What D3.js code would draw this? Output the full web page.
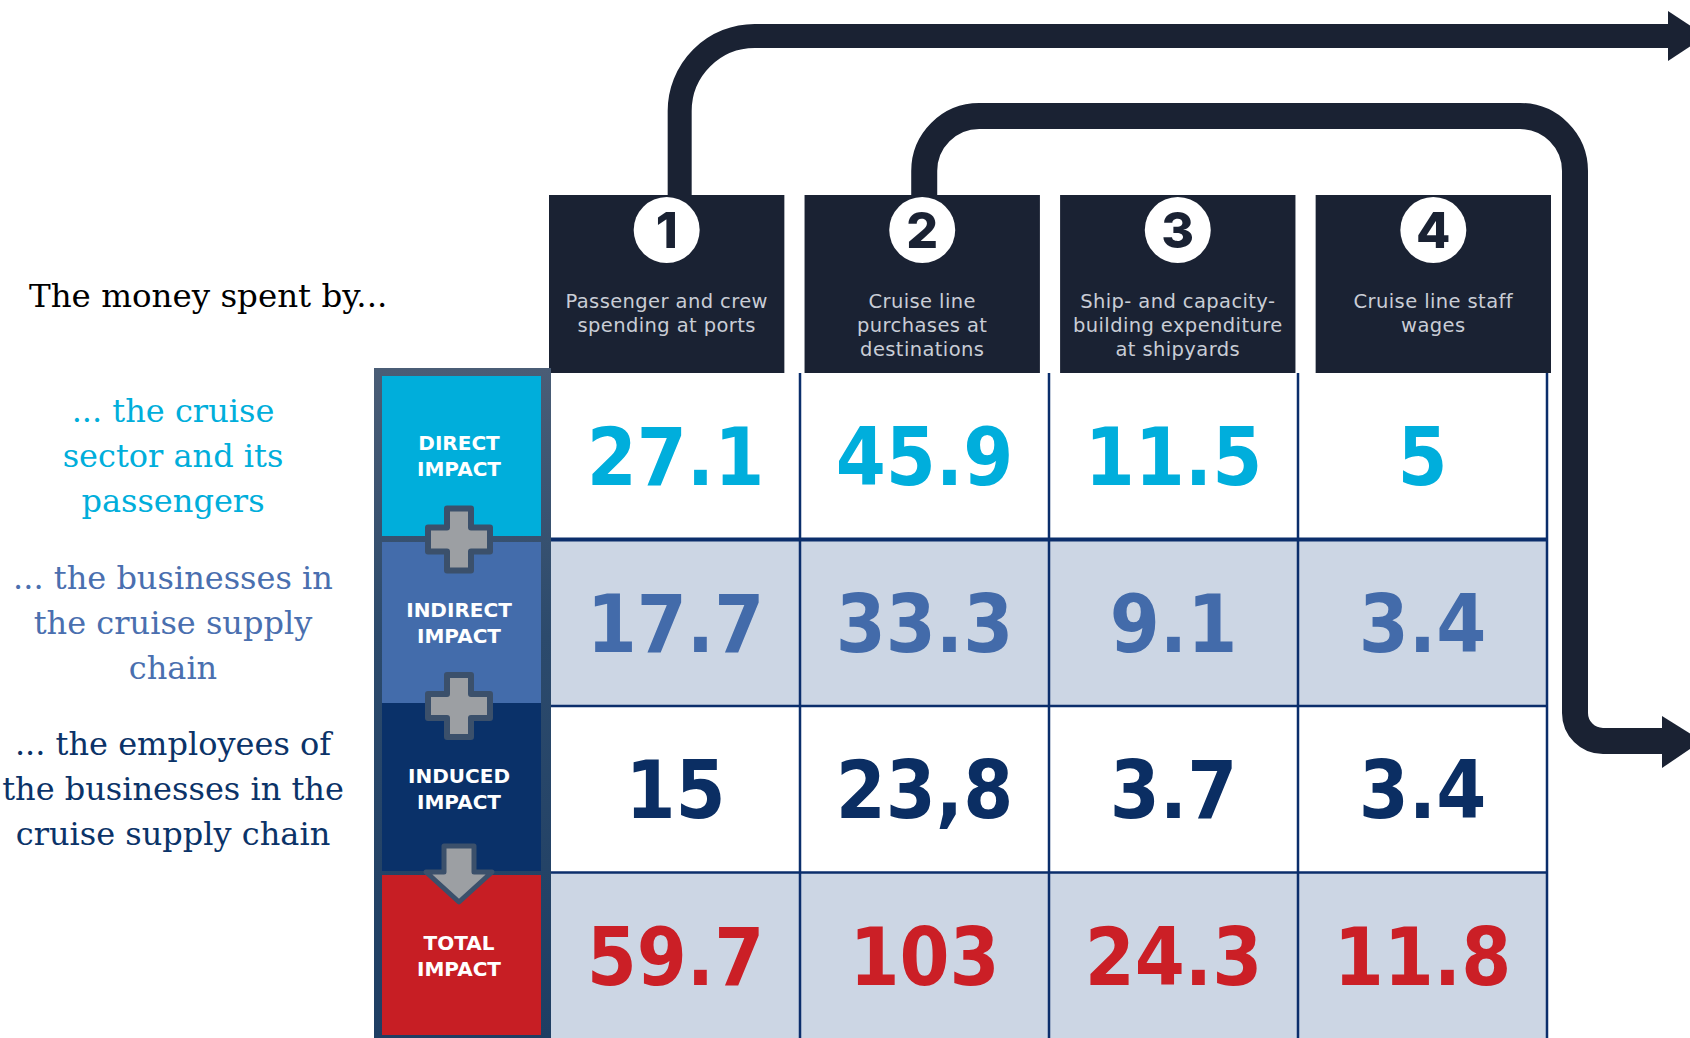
<!DOCTYPE html>
<html>
<head>
<meta charset="utf-8">
<script src="https://cdn.jsdelivr.net/npm/d3@7"></script>
<style>
  html, body { margin: 0; padding: 0; background: #ffffff; }
  svg { display: block; }
</style>
</head>
<body>
<svg id="chart" width="1690" height="1038"></svg>
<script>
// ---------------- DATA ----------------
const columns = ["c1", "c2", "c3", "c4"];
const columnNumbers = ["1", "2", "3", "4"];
const columnLabels = [
  ["Passenger and crew", "spending at ports"],
  ["Cruise line", "purchases at", "destinations"],
  ["Ship- and capacity-", "building expenditure", "at shipyards"],
  ["Cruise line staff", "wages"]
];
const rows = ["direct", "indirect", "induced", "total"];
const rowLabels = [["DIRECT", "IMPACT"], ["INDIRECT", "IMPACT"], ["INDUCED", "IMPACT"], ["TOTAL", "IMPACT"]];
const directValues   = ["27.1", "45.9", "11.5", "5"];
const indirectValues = ["17.7", "33.3", "9.1", "3.4"];
const inducedValues  = ["15", "23,8", "3.7", "3.4"];
const totalValues    = ["59.7", "103", "24.3", "11.8"];
const spentByTitle = "The money spent by...";
const spentByLabels = [
  ["... the cruise", "sector and its", "passengers"],
  ["... the businesses in", "the cruise supply", "chain"],
  ["... the employees of", "the businesses in the", "cruise supply chain"]
];

// ---------------- STYLE ----------------
const rowColors = ["#00AEDC", "#436BAA", "#0B2E63", "#CB1F26"];
const panelColors = ["#00AEDB", "#436CAB", "#0A3169", "#C71E24"];
const rowFills = ["#FFFFFF", "#CCD6E4", "#FFFFFF", "#CCD6E4"];
const labelColors = ["#00AEDB", "#4A6FAF", "#0B3368"];
const navy = "#1A2233";
const gridColor = "#0B2E6B";

const values = [directValues, indirectValues, inducedValues, totalValues];

const svg = d3.select("#chart");

// scales
const x = d3.scaleBand().domain(columns).range([551, 1547]);
const y = d3.scaleBand().domain(rows).range([373, 1039]);
const xCard = d3.scaleBand().domain(columns).range([549, 1551]).paddingInner(0.079);
const cardTop = 195, cardBottom = 373;

// ---------------- ARROWS ----------------
const arrowW = 24;
function arrowPath1() {
  const p = d3.path();
  const xv = xCard("c1") + xCard.bandwidth() / 2 + 13;
  const yh = 36, r = 75;
  p.moveTo(xv, cardTop + 2);
  p.lineTo(xv, yh + r);
  p.arcTo(xv, yh, xv + r, yh, r);
  p.lineTo(1672, yh);
  return p.toString();
}
function arrowPath2() {
  const p = d3.path();
  const xv = xCard("c2") + xCard.bandwidth() / 2 + 2;
  const yh = 116, r = 55, xr = 1575, yb = 741, r2 = 28;
  p.moveTo(xv, cardTop + 2);
  p.lineTo(xv, yh + r);
  p.arcTo(xv, yh, xv + r, yh, r);
  p.lineTo(xr - r, yh);
  p.arcTo(xr, yh, xr, yh + r, r);
  p.lineTo(xr, yb - r2);
  p.arcTo(xr, yb, xr + r2, yb, r2);
  p.lineTo(1666, yb);
  return p.toString();
}
const arrows = svg.append("g");
arrows.append("path").attr("d", arrowPath1()).attr("fill", "none")
  .attr("stroke", navy).attr("stroke-width", arrowW);
arrows.append("path").attr("d", arrowPath2()).attr("fill", "none")
  .attr("stroke", navy).attr("stroke-width", arrowW + 2);
arrows.append("path").attr("d", "M1668,11 L1706,36 L1668,61 Z").attr("fill", navy);
arrows.append("path").attr("d", "M1662,716 L1702,741 L1662,768 Z").attr("fill", navy);

// ---------------- HEADER CARDS ----------------
const cards = svg.append("g").selectAll("g").data(columns).join("g")
  .attr("transform", d => `translate(${xCard(d)},${cardTop})`);
cards.append("rect")
  .attr("width", xCard.bandwidth()).attr("height", cardBottom - cardTop)
  .attr("fill", navy);
cards.append("circle")
  .attr("cx", xCard.bandwidth() / 2).attr("cy", 35).attr("r", 33)
  .attr("fill", "#ffffff");
cards.append("text")
  .attr("x", xCard.bandwidth() / 2).attr("y", 35).attr("dy", "0.36em")
  .attr("text-anchor", "middle")
  .attr("font-family", "Inter, 'Open Sans', sans-serif")
  .attr("font-weight", 800).attr("font-size", 50).attr("fill", navy)
  .text((d, i) => columnNumbers[i]);
cards.each(function (d, i) {
  const g = d3.select(this);
  columnLabels[i].forEach((line, j) => {
    g.append("text")
      .attr("x", xCard.bandwidth() / 2).attr("y", 113 + j * 24)
      .attr("text-anchor", "middle")
      .attr("font-family", "'DejaVu Sans', sans-serif")
      .attr("font-size", 19.5).attr("letter-spacing", 0.4).attr("fill", "#C9CDD6")
      .text(line);
  });
});

// ---------------- TABLE ----------------
const table = svg.append("g");
rows.forEach((r, ri) => {
  table.append("g").selectAll("rect").data(columns).join("rect")
    .attr("x", d => x(d)).attr("y", y(r))
    .attr("width", x.bandwidth()).attr("height", y.bandwidth())
    .attr("fill", rowFills[ri]);
  table.append("g").selectAll("text").data(columns).join("text")
    .attr("x", d => x(d) + x.bandwidth() / 2)
    .attr("y", y(r) + y.bandwidth() / 2)
    .attr("dy", "0.36em")
    .attr("text-anchor", "middle")
    .attr("font-family", "'DejaVu Sans Condensed', 'DejaVu Sans', sans-serif")
    .style("font-stretch", "condensed")
    .attr("font-weight", "bold").attr("font-size", 80)
    .attr("fill", rowColors[ri])
    .text((d, ci) => values[ri][ci]);
});
// grid lines
const grid = svg.append("g").attr("stroke", gridColor);
columns.slice(1).concat(["end"]).forEach(c => {
  const xx = c === "end" ? x.range()[1] : x(c);
  grid.append("line").attr("x1", xx).attr("x2", xx)
    .attr("y1", y.range()[0]).attr("y2", 1038).attr("stroke-width", 2.5);
});
rows.slice(1).forEach((r, i) => {
  grid.append("line").attr("x1", x.range()[0]).attr("x2", x.range()[1])
    .attr("y1", y(r)).attr("y2", y(r)).attr("stroke-width", i === 0 ? 4 : 2.5);
});

// ---------------- LEFT IMPACT BAND ----------------
const band = svg.append("g");
const defs = svg.append("defs");
const grad = defs.append("linearGradient").attr("id", "sea").attr("x1", 0).attr("x2", 0).attr("y1", 0).attr("y2", 1);
grad.append("stop").attr("offset", "0%").attr("stop-color", "#4A5D76");
grad.append("stop").attr("offset", "40%").attr("stop-color", "#2C4A6C");
grad.append("stop").attr("offset", "100%").attr("stop-color", "#1E3E63");
band.append("rect").attr("x", 374).attr("y", 368).attr("width", 551 - 374).attr("height", 1038 - 368)
  .attr("fill", "url(#sea)");
const panelTop = [376, 542, 703, 875];
const panelBot = [536, 703, 871, 1035];
rows.forEach((r, ri) => {
  band.append("rect").attr("x", 382).attr("y", panelTop[ri])
    .attr("width", 541 - 382).attr("height", panelBot[ri] - panelTop[ri])
    .attr("fill", panelColors[ri]);
});
// connectors: plus signs and down arrow
function plusPath(cx, cy) {
  const a = 31, t = 12;
  return `M${cx - t},${cy - a} H${cx + t} V${cy - t} H${cx + a} V${cy + t} H${cx + t} V${cy + a} H${cx - t} V${cy + t} H${cx - a} V${cy - t} H${cx - t} Z`;
}
[y("indirect"), y("induced")].forEach(cy => {
  band.append("path").attr("d", plusPath(459, cy))
    .attr("fill", "#9C9FA3").attr("stroke", "#3B506B").attr("stroke-width", 6)
    .attr("stroke-linejoin", "round");
});
band.append("path")
  .attr("d", "M444,846 H474 V872 H492 L459,902 L426,872 H444 Z")
  .attr("fill", "#9C9FA3").attr("stroke", "#3B506B").attr("stroke-width", 5)
  .attr("stroke-linejoin", "round");
rows.forEach((r, ri) => {
  const cy = y(r) + y.bandwidth() / 2;
  rowLabels[ri].forEach((line, j) => {
    band.append("text")
      .attr("x", 459).attr("y", cy - 13 + j * 26).attr("dy", "0.36em")
      .attr("text-anchor", "middle")
      .attr("font-family", "'DejaVu Sans', sans-serif")
      .attr("font-weight", "bold").attr("font-size", 20)
      .attr("fill", "#ffffff")
      .text(line);
  });
});

// ---------------- LEFT TEXT ----------------
svg.append("text").attr("x", 29).attr("y", 307)
  .attr("font-family", "'DejaVu Serif', Georgia, serif")
  .attr("font-size", 32.5).attr("fill", "#000000")
  .text(spentByTitle);
spentByLabels.forEach((lines, li) => {
  const cy = y(rows[li]) + y.bandwidth() / 2;
  lines.forEach((line, j) => {
    svg.append("text")
      .attr("x", 173).attr("y", cy + (j - 1) * 45).attr("dy", "0.35em")
      .attr("text-anchor", "middle")
      .attr("font-family", "'DejaVu Serif', Georgia, serif")
      .attr("font-size", 32).attr("fill", labelColors[li])
      .text(line);
  });
});
</script>
</body>
</html>
